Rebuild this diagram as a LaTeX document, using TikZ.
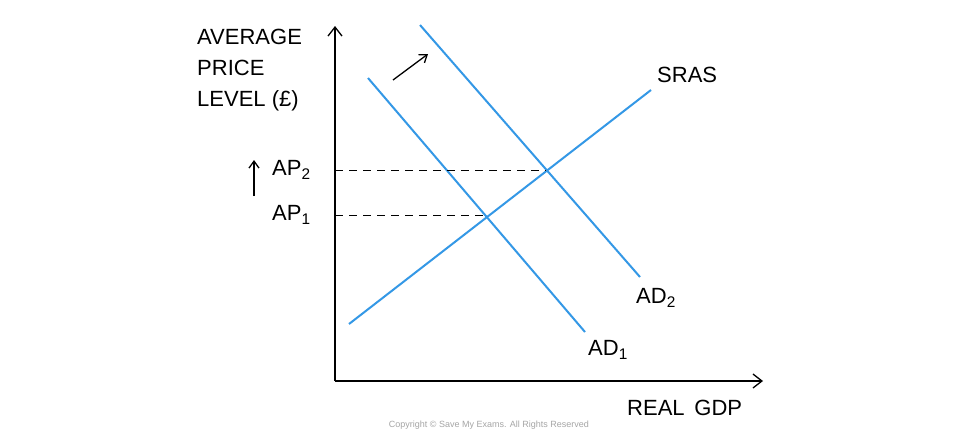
\documentclass[tikz,border=0pt]{standalone}
\usepackage{fontspec}
\usetikzlibrary{arrows.meta}
\setmainfont{Liberation Sans}
\definecolor{curve}{RGB}{52,152,230}
\begin{document}
\begin{tikzpicture}[x=1pt,y=-1pt,
  lbl/.style={font=\fontsize{22}{26}\selectfont, inner sep=0pt},
  cur/.style={curve, line width=2pt},
  ax/.style={line width=1.3pt, -{Straight Barb[length=9pt,width=14pt]}},
  dsh/.style={dashed, dash pattern=on 8pt off 6pt, line width=1pt}]
\useasboundingbox[fill=white] (0,0) rectangle (978,442);
\coordinate (o) at (335,381);
\coordinate (yt) at (335,26);
\coordinate (xr) at (763,381);
\draw[ax] (o) -- (yt);
\draw[ax] (o) -- (xr);
\coordinate (s1) at (349,324); \coordinate (s2) at (651,90);
\coordinate (a1) at (368,78); \coordinate (a2) at (585,332);
\coordinate (b1) at (420,25); \coordinate (b2) at (640,277);
\draw[cur] (s1) -- (s2);
\draw[cur] (a1) -- (a2);
\draw[cur] (b1) -- (b2);
\coordinate (p2) at (335,170); \coordinate (e2) at (546,170);
\coordinate (p1) at (335,215); \coordinate (e1) at (487,215);
\draw[dsh] (p2) -- (e2);
\draw[dsh] (p1) -- (e1);
\node[lbl, anchor=north west, align=left] (ytl) at (197,29) {AVERAGE\\[5pt]PRICE\\[5pt]LEVEL (£)};
\node[lbl, anchor=west] (ap2) at (272,170) {AP\textsubscript{2}};
\node[lbl, anchor=west] (ap1) at (272,215) {AP\textsubscript{1}};
\coordinate (u1) at (254,196); \coordinate (u2) at (254,160);
\draw[line width=1.3pt, -{Straight Barb[length=7pt,width=10pt]}] (u1) -- (u2);
\coordinate (r1) at (393,80); \coordinate (r2) at (428,54);
\draw[line width=1.3pt, -{Straight Barb[length=7pt,width=10pt]}] (r1) -- (r2);
\node[lbl, anchor=west] (sras) at (657,75) {SRAS};
\node[lbl, anchor=west] (ad2) at (636,298) {AD\textsubscript{2}};
\node[lbl, anchor=west] (ad1) at (588,350) {AD\textsubscript{1}};
\node[lbl, anchor=west] (gdp) at (627,408) {REAL\;\,GDP};
\node[font=\fontsize{9}{11}\selectfont, text=gray!70] (cp) at (489,425) {Copyright © Save My Exams. All Rights Reserved};
\end{tikzpicture}
\end{document}
